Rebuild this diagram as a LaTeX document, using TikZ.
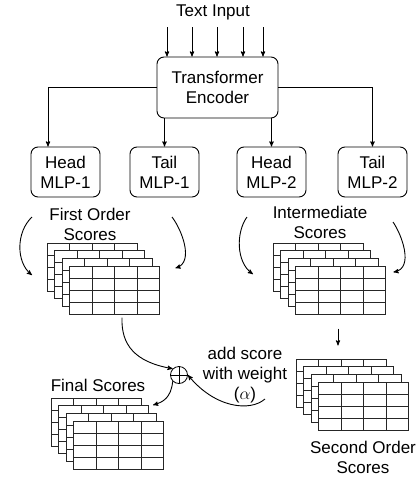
\documentclass[tikz,border=0pt]{standalone}
\usepackage{fontspec}
\setmainfont{Liberation Sans}
\usetikzlibrary{arrows}

% stack of four score tables: name, x, y of the back layer
\newcommand{\scorestack}[3]{%
  \foreach \k in {0,...,3} {
    \begin{scope}[shift={(#2+7.5*\k,#3+7.7*\k)}]
      \draw[layer,fill=white] (0,0) rectangle (90,48);
      \foreach \c in {22.5,45,67.5} \draw[layer] (\c,0) -- (\c,48);
      \foreach \r in {12,24,36} \draw[layer] (0,\r) -- (90,\r);
    \end{scope}
  }
  \node[minimum width=90pt,minimum height=48pt,inner sep=0pt,anchor=north west] (#1) at (#2+22.5,#3+23.1) {};
}

\begin{document}
\begin{tikzpicture}[x=1pt,y=-1pt,font=\fontsize{17}{20}\selectfont,
  trans/.style={line width=0.9pt,->,>=stealth'},
  box/.style={draw,rectangle,rounded corners=7pt,align=center,line width=0.9pt,inner sep=0pt},
  layer/.style={line width=0.75pt,draw=black!85}]
\useasboundingbox (0,0) rectangle (419,477);

\node(tin) at (213,12) {Text Input};
\node[box,minimum width=121pt,minimum height=61pt](enc) at (217.5,87.5)
	{Transformer\\Encoder};
\node[box,minimum width=69pt,minimum height=50pt](hm1) at (65.5,172) {Head\\MLP-1};
\node[box,minimum width=69pt,minimum height=50pt](tm1) at (164.5,172) {Tail\\MLP-1};
\node[box,minimum width=69pt,minimum height=50pt](hm2) at (271.5,172) {Head\\MLP-2};
\node[box,minimum width=69pt,minimum height=50pt](tm2) at (372.5,172) {Tail\\MLP-2};

% input tokens
\foreach \x [count=\i] in {167,192,217,243,263} {
	\coordinate (in\i) at (\x,27);
	\draw[trans] (in\i) -- (in\i |- enc.north);
}

\draw[trans] (enc.west) -| ([xshift=-17.5pt]hm1.north);
\draw[trans] (enc.east) -| (tm2.north);
\draw[trans] (tm1.north |- enc.south) -- (tm1.north);
\draw[trans] (hm2.north |- enc.south) -- (hm2.north);

\node[align=center](fos) at (90,224) {First Order\\Scores};
\node[align=center](ims) at (320,222) {Intermediate\\Scores};

\scorestack{first}{47}{243}
\scorestack{inter}{273}{243}
\scorestack{second}{296}{359}
\scorestack{final}{51}{398}

\node[align=center](sos) at (363,457) {Second Order\\Scores};
\node(fin) at (98,385) {Final Scores};
\node[align=center](wgt) at (245,375) {add score\\with weight\\($\alpha$)};

\node[draw,circle,minimum size=17pt,inner sep=0pt,line width=0.8pt](plus) at (179,375) {};
\draw[line width=0.8pt] (plus.north) -- (plus.south) (plus.west) -- (plus.east);

% curved arrows into the score tables
\coordinate (a1) at (32,217);
\coordinate (a2) at (172,217);
\coordinate (a3) at (247,217);
\coordinate (a4) at (393,222);
\coordinate (w1) at (265,399);
\draw[trans] (a1) .. controls (16,232) and (16,262) .. ([xshift=-37.5pt,yshift=-9pt]first.north west);
\draw[trans] (a2) .. controls (182,230) and (194,262) .. ([xshift=15.5pt,yshift=-2pt]first.north east);
\draw[trans] (a3) .. controls (236,232) and (236,262) .. ([xshift=-42.5pt,yshift=-8pt]inter.north west);
\draw[trans] (a4) .. controls (402,235) and (414,268) .. ([xshift=7.5pt,yshift=-6pt]inter.north east);

\draw[trans] ([xshift=42.5pt,yshift=-14pt]inter.south west) -- ([xshift=42.5pt,yshift=-31pt]inter.south west);
\draw[trans] ([xshift=52.5pt,yshift=-3pt]first.south west) .. controls (121,345) and (135,362) .. (plus.north west);
\draw[trans] (plus.south west) .. controls (171,398) and (163,402) .. ([xshift=79.5pt,yshift=16pt]final.north west);
\draw[trans] (w1) .. controls (250,412) and (215,408) .. (plus.east);
\end{tikzpicture}
\end{document}
